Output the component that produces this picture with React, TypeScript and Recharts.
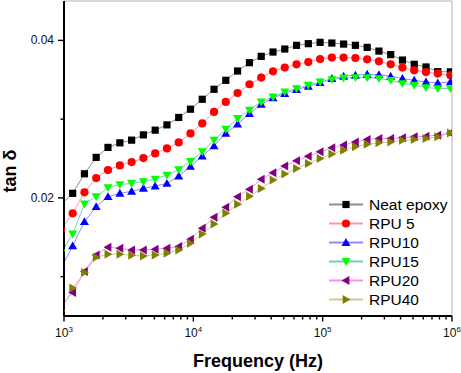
import React from 'react';
import { LineChart, Line, XAxis, YAxis, Legend, ReferenceLine } from 'recharts';

// sweep frequencies in Hz (first point lies just left of 10^3 and gets clipped)
const freq = [946, 1167, 1439, 1774, 2188, 2704, 3334, 4111, 5070, 6252, 7709, 9506, 11722, 14454, 17824, 21979, 27164, 33497, 41305, 50933, 62806, 77446, 95499, 117761, 145211, 179060, 220800, 272270, 335740, 414000, 510500, 629500, 776250, 972000];

const neatEpoxy = [0.0191, 0.02058, 0.02306, 0.02514, 0.02641, 0.02699, 0.02733, 0.0280, 0.0286, 0.02927, 0.03021, 0.03126, 0.03252, 0.03379, 0.03493, 0.03611, 0.03717, 0.03797, 0.03852, 0.0389, 0.03937, 0.03958, 0.03975, 0.03966, 0.03953, 0.03937, 0.03911, 0.03864, 0.03819, 0.0375, 0.03696, 0.03662, 0.03603, 0.0360];
const rpu5 = [0.01593, 0.01804, 0.0207, 0.02252, 0.02353, 0.02412, 0.02454, 0.02505, 0.02565, 0.02628, 0.02704, 0.02818, 0.02945, 0.03092, 0.03218, 0.03332, 0.03443, 0.03527, 0.03607, 0.03654, 0.03696, 0.03725, 0.03763, 0.03781, 0.03781, 0.03776, 0.03759, 0.03734, 0.03696, 0.03654, 0.0362, 0.03598, 0.03578, 0.03557];
const rpu10 = [0.01104, 0.0139, 0.01698, 0.01888, 0.02015, 0.02058, 0.02083, 0.02121, 0.0215, 0.02184, 0.02277, 0.024, 0.0253, 0.02661, 0.02818, 0.02936, 0.03071, 0.03189, 0.03269, 0.03325, 0.03375, 0.03417, 0.03464, 0.03515, 0.03544, 0.03557, 0.03569, 0.03565, 0.03544, 0.03515, 0.03493, 0.03472, 0.03459, 0.03472];
const rpu15 = [0.01301, 0.01542, 0.01922, 0.02015, 0.02131, 0.02169, 0.02184, 0.02205, 0.02239, 0.0229, 0.02359, 0.02463, 0.02587, 0.02733, 0.02872, 0.03008, 0.03113, 0.03218, 0.03282, 0.03345, 0.03388, 0.0343, 0.03472, 0.03502, 0.03522, 0.03527, 0.03527, 0.03515, 0.03493, 0.03451, 0.0343, 0.03401, 0.03388, 0.03388];
const rpu20 = [0.00622, 0.00798, 0.01064, 0.01276, 0.01373, 0.01361, 0.01339, 0.01339, 0.01348, 0.01361, 0.01381, 0.01475, 0.01614, 0.01754, 0.0188, 0.02015, 0.0211, 0.02235, 0.02319, 0.02404, 0.02471, 0.0253, 0.02585, 0.02635, 0.0267, 0.02711, 0.02742, 0.02755, 0.02755, 0.02762, 0.02775, 0.02784, 0.02796, 0.02825];
const rpu40 = [0.00568, 0.00854, 0.01052, 0.01247, 0.01285, 0.01285, 0.0127, 0.01263, 0.01276, 0.01297, 0.01339, 0.01424, 0.01542, 0.01669, 0.01804, 0.01918, 0.0202, 0.0212, 0.02226, 0.02302, 0.02374, 0.02438, 0.02501, 0.02556, 0.02606, 0.02648, 0.02682, 0.02699, 0.02711, 0.02733, 0.02742, 0.02755, 0.02775, 0.02825];

const majorX = [1000, 10000, 100000, 1000000];
const xTicks = [1000, 2000, 3000, 4000, 5000, 6000, 7000, 8000, 9000, 10000, 20000, 30000, 40000, 50000, 60000, 70000, 80000, 90000, 100000, 200000, 300000, 400000, 500000, 600000, 700000, 800000, 900000, 1000000];
const yTicks = [0.01, 0.02, 0.03, 0.04];
const yLabels = ['', '0.02', '', '0.04'];

const data = freq.map((f, i) => ({
  f,
  neat: neatEpoxy[i],
  rpu5: rpu5[i],
  rpu10: rpu10[i],
  rpu15: rpu15[i],
  rpu20: rpu20[i],
  rpu40: rpu40[i],
}));

const series = [
  { key: 'neat', name: 'Neat epoxy', color: '#000000', line: '#8c8c8c', shape: 'square' },
  { key: 'rpu5', name: 'RPU 5', color: '#ff0000', line: '#ff9a9a', shape: 'circle' },
  { key: 'rpu10', name: 'RPU10', color: '#0000ff', line: '#8c8cff', shape: 'up' },
  { key: 'rpu15', name: 'RPU15', color: '#00ff00', line: '#78ccc4', shape: 'down' },
  { key: 'rpu20', name: 'RPU20', color: '#800080', line: '#f094f0', shape: 'left' },
  { key: 'rpu40', name: 'RPU40', color: '#808000', line: '#cccc98', shape: 'right' },
];

const FONT = '"Liberation Sans", Arial, sans-serif';

const Marker = ({ shape, cx, cy, color }: any) => {
  const s = 4.5;
  switch (shape) {
    case 'square':
      return <rect x={cx - 3.6} y={cy - 3.6} width={7.2} height={7.2} fill={color} />;
    case 'circle':
      return <circle cx={cx} cy={cy} r={4.1} fill={color} />;
    case 'up':
      return <polygon points={`${cx},${cy - s} ${cx + s},${cy + 3.4} ${cx - s},${cy + 3.4}`} fill={color} />;
    case 'down':
      return <polygon points={`${cx},${cy + s} ${cx + s},${cy - 3.4} ${cx - s},${cy - 3.4}`} fill={color} />;
    case 'left':
      return <polygon points={`${cx - s},${cy} ${cx + 3.4},${cy - s} ${cx + 3.4},${cy + s}`} fill={color} />;
    default:
      return <polygon points={`${cx + s},${cy} ${cx - 3.4},${cy - s} ${cx - 3.4},${cy + s}`} fill={color} />;
  }
};

const XTick = ({ x, y, payload }: any) => {
  const major = majorX.includes(payload.value);
  const exp = Math.round(Math.log10(payload.value));
  return (
    <g>
      <line x1={x} x2={x} y1={y} y2={y + (major ? 5.5 : 3.5)} stroke="#000" strokeWidth={1.4} />
      {major && (
        <text x={x} y={y + 21} textAnchor="middle" fontSize={12} fill="#111" fontFamily={FONT}>
          <tspan>10</tspan>
          <tspan dy={-5} fontSize={8}>{exp}</tspan>
        </text>
      )}
    </g>
  );
};

const YTick = ({ x, y, index }: any) => {
  const label = yLabels[index] || '';
  return (
    <g>
      <line x1={x - (label ? 6 : 3.5)} x2={x} y1={y} y2={y} stroke="#000" strokeWidth={1.4} />
      {label && (
        <text x={x - 10} y={y + 4} textAnchor="end" fontSize={12} fill="#111" fontFamily={FONT}>
          {label}
        </text>
      )}
    </g>
  );
};

const LegendBox = () => (
  <div style={{ fontFamily: FONT, fontSize: 15.5, color: '#000' }}>
    {series.map((s) => (
      <div key={s.key} style={{ display: 'flex', alignItems: 'center', height: 19 }}>
        <svg width={40} height={19}>
          <line x1={4} x2={38} y1={9.5} y2={9.5} stroke={s.line} strokeWidth={1.8} />
          <Marker shape={s.shape} cx={21} cy={9.5} color={s.color} />
        </svg>
        <span style={{ marginLeft: 4, lineHeight: '19px' }}>{s.name}</span>
      </div>
    ))}
  </div>
);

export default function App() {
  return (
    <div style={{ position: 'absolute', left: 0, top: 0, width: 461, height: 373, background: '#fff' }}>
      <LineChart width={461} height={373} data={data} margin={{ top: 1, right: 9, left: 0, bottom: 0 }} style={{ fontFamily: FONT }}>
        <XAxis
          dataKey="f"
          type="number"
          scale="log"
          domain={[1000, 1000000]}
          allowDataOverflow
          ticks={xTicks}
          interval={0}
          tick={<XTick />}
          tickLine={false}
          tickSize={0}
          tickMargin={0}
          height={57}
          axisLine={{ stroke: '#000', strokeWidth: 2 }}
          label={{
            value: 'Frequency (Hz)',
            position: 'insideBottom',
            offset: 6,
            style: { fontSize: 18, fontWeight: 'bold', fill: '#000', fontFamily: FONT },
          }}
        />
        <YAxis
          type="number"
          domain={[0.005, 0.045]}
          ticks={yTicks}
          interval={0}
          tick={<YTick />}
          tickLine={false}
          tickSize={0}
          tickMargin={0}
          width={64}
          axisLine={{ stroke: '#000', strokeWidth: 2 }}
          label={{
            content: () => (
              <text x={16} y={171} transform="rotate(-90 16 171)" textAnchor="middle" fontSize={18} fontWeight="bold" fill="#000" fontFamily={FONT}>
                tan δ
              </text>
            ),
          }}
        />
        <ReferenceLine y={0.045} stroke="#b4b4b4" strokeWidth={1} />
        <ReferenceLine x={1000000} stroke="#b4b4b4" strokeWidth={1} />
        {series.map((s) => (
          <Line
            key={s.key}
            type="linear"
            dataKey={s.key}
            name={s.name}
            stroke={s.line}
            strokeWidth={1}
            isAnimationActive={false}
            activeDot={false}
            dot={(p: any) => <Marker key={`${s.key}-${p.index}`} shape={s.shape} cx={p.cx} cy={p.cy} color={s.color} />}
          />
        ))}
        <Legend
          layout="vertical"
          align="center"
          verticalAlign="middle"
          content={<LegendBox />}
          wrapperStyle={{ left: 325, top: 195, width: 136, height: 114 }}
        />
      </LineChart>
    </div>
  );
}
